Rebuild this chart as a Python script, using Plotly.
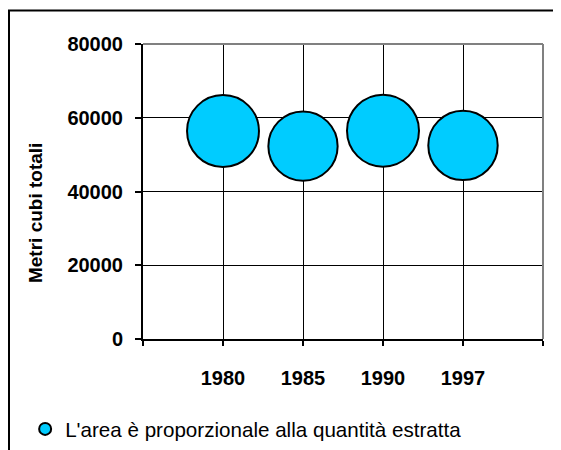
import plotly.graph_objects as go

years = ["1980", "1985", "1990", "1997"]
positions = [1, 2, 3, 4]
volumes = [56400, 52300, 56500, 52500]
y_ticks = [0, 20000, 40000, 60000, 80000]
legend_label = "L'area è proporzionale alla quantità estratta"
y_title = "Metri cubi totali"

FONT = "Liberation Sans, Arial, sans-serif"
max_d = 72

fig = go.Figure()
fig.add_trace(go.Scatter(
    x=positions, y=volumes, mode="markers",
    name=legend_label,
    marker=dict(size=volumes, sizemode="area",
                sizeref=2 * max(volumes) / max_d ** 2,
                color="#00CCFF", line=dict(color="black", width=2), opacity=1),
    showlegend=True,
))

fig.update_layout(
    width=553, height=442,
    margin=dict(l=135, r=18, t=36, b=111, autoexpand=False),
    paper_bgcolor="white", plot_bgcolor="white",
    font=dict(family=FONT, color="black"),
    showlegend=True,
    legend=dict(orientation="h", xref="container", yref="container",
                x=0.031, y=0.0475, xanchor="left", yanchor="middle",
                font=dict(size=20.6, family=FONT, color="black"),
                itemsizing="constant", bgcolor="rgba(0,0,0,0)"),
    xaxis=dict(range=[0, 5], tickmode="array", tickvals=positions, ticktext=years,
               showgrid=True, gridcolor="black", gridwidth=1.3,
               showline=True, linecolor="black", linewidth=2,
               ticks="outside", ticklen=5, tickcolor="black", tickwidth=1.5,
               minor=dict(tick0=0, dtick=1, ticks="outside", ticklen=5,
                          tickcolor="black", tickwidth=1.5, showgrid=False),
               tickfont=dict(size=20, family=FONT, color="black", weight="bold"),
               ticklabelstandoff=15, zeroline=False, fixedrange=True),
    yaxis=dict(range=[0, 80000], tickmode="array", tickvals=y_ticks,
               ticktext=[str(v) for v in y_ticks],
               showgrid=True, gridcolor="black", gridwidth=1.3,
               showline=True, linecolor="black", linewidth=2,
               ticks="outside", ticklen=6, tickcolor="black", tickwidth=1.5,
               tickfont=dict(size=20, family=FONT, color="black", weight="bold"),
               ticklabelstandoff=8, zeroline=False, automargin=False),
    annotations=[
        dict(text=y_title, xref="paper", yref="paper", x=-0.27, y=0.427,
             xanchor="center", yanchor="middle", textangle=-90, showarrow=False,
             font=dict(size=19, family=FONT, color="black", weight="bold")),
    ],
    shapes=[
        dict(type="line", xref="paper", yref="paper", x0=0, x1=1, y0=1, y1=1,
             line=dict(color="#808080", width=2), layer="above"),
        dict(type="line", xref="paper", yref="paper", x0=1, x1=1, y0=0, y1=1,
             line=dict(color="#808080", width=2), layer="above"),
        dict(type="rect", xref="paper", yref="paper", x0=-0.335, x1=2, y0=-2, y1=1.1136,
             line=dict(color="black", width=2), fillcolor="rgba(0,0,0,0)", layer="above"),
    ],
)

fig.write_html("out.html")
